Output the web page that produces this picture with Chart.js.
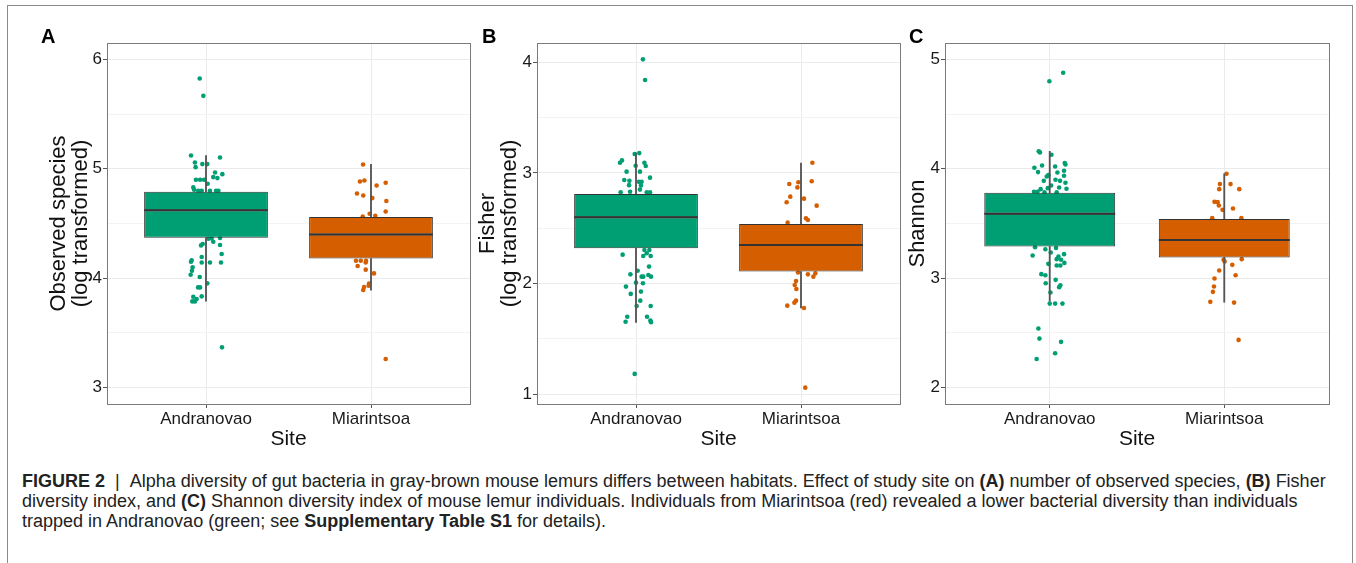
<!DOCTYPE html>
<html>
<head>
<meta charset="utf-8">
<script src="https://cdn.jsdelivr.net/npm/chart.js@4.4.1/dist/chart.umd.min.js"></script>
<style>
  html, body { margin: 0; padding: 0; background: #fff; }
  body { width: 1356px; height: 563px; position: relative; overflow: hidden; font-family: "Liberation Sans", Arial, sans-serif; }
  .frame { position: absolute; left: 7px; top: 5px; width: 1344px; height: 620px; border: 1px solid #8a8a8a; }
  canvas { position: absolute; top: 0; }
  .tag { position: absolute; top: 26px; font-weight: bold; font-size: 20px; line-height: 20px; color: #000; }
  .caption { position: absolute; left: 22px; top: 471px; font-size: 18px; line-height: 20px; color: #222; white-space: nowrap; }
  .caption .sep { margin: 0 10px; }
</style>
</head>
<body>
<div class="frame"></div>
<canvas id="panelA" width="464" height="460" style="left:10px"></canvas>
<canvas id="panelB" width="430" height="460" style="left:474px"></canvas>
<canvas id="panelC" width="427" height="460" style="left:906px"></canvas>
<div class="tag" style="left:41px">A</div>
<div class="tag" style="left:482px">B</div>
<div class="tag" style="left:909px">C</div>
<div class="caption"><b>FIGURE 2</b><span class="sep">|</span>Alpha diversity of gut bacteria in gray-brown mouse lemurs differs between habitats. Effect of study site on <b>(A)</b> number of observed species, <b>(B)</b> Fisher<br>diversity index, and <b>(C)</b> Shannon diversity index of mouse lemur individuals. Individuals from Miarintsoa (red) revealed a lower bacterial diversity than individuals<br>trapped in Andranovao (green; see <b>Supplementary Table S1</b> for details).</div>

<script>
// sites on the x axis
const sites = ['Andranovao', 'Miarintsoa'];
const siteColors = ['#009E73', '#D55E00'];

// A - observed species (log transformed)
const obsTicks = [3, 4, 5, 6];
const obsQ1 = [4.37, 4.18];
const obsMedian = [4.62, 4.40];
const obsQ3 = [4.79, 4.56];
const obsLow = [3.79, 3.89];
const obsHigh = [5.12, 5.04];
const obsAndrX = [0.962, 0.984, 0.909, 1.085, 0.933, 0.937, 0.978, 1.008, 1.055, 1.099, 1.069, 1.044, 0.939, 0.964, 0.988, 1.010, 0.923, 0.928, 0.953, 0.974, 1.024, 1.061, 1.075,
  1.014, 1.034, 1.085, 1.044, 0.980, 0.970, 1.085, 1.095, 0.913, 0.909, 0.974, 0.974, 1.024, 1.091, 0.919, 0.915, 0.907, 0.962, 1.008, 0.952, 0.964, 0.923, 0.974, 0.917, 0.933, 0.943, 1.097];
const obsAndrY = [5.825, 5.667, 5.121, 5.103, 5.058, 5.015, 5.043, 5.043, 4.966, 4.951, 4.915, 4.924, 4.900, 4.900, 4.900, 4.863, 4.830, 4.808, 4.800, 4.800, 4.800, 4.800, 4.800,
  4.360, 4.364, 4.367, 4.333, 4.312, 4.300, 4.303, 4.221, 4.163, 4.151, 4.194, 4.144, 4.144, 4.144, 4.099, 4.068, 4.032, 4.011, 3.953, 3.916, 3.916, 3.831, 3.834, 3.788, 3.788, 3.810, 3.368];
const obsMiarX = [1.952, 1.933, 1.960, 2.034, 2.089, 1.915, 1.953, 2.008, 2.093, 1.992, 2.026, 2.089, 1.950,
  1.909, 1.938, 1.970, 1.919, 1.968, 1.968, 2.018, 1.988, 1.986, 1.958, 1.953, 2.089];
const obsMiarY = [5.040, 4.884, 4.893, 4.847, 4.872, 4.774, 4.756, 4.732, 4.705, 4.589, 4.571, 4.610, 4.564,
  4.160, 4.160, 4.160, 4.111, 4.144, 4.078, 4.044, 3.950, 3.932, 3.920, 3.892, 3.262];

// B - Fisher (log transformed)
const fisherTicks = [1, 2, 3, 4];
const fisherQ1 = [2.32, 2.11];
const fisherMedian = [2.60, 2.35];
const fisherQ3 = [2.81, 2.54];
const fisherLow = [1.65, 1.78];
const fisherHigh = [3.18, 3.09];
const fisherAndrX = [1.042, 1.055, 0.915, 0.903, 0.992, 1.020, 1.051, 1.059, 0.943, 0.998, 1.024, 1.085, 0.929, 0.960, 1.018, 1.034, 1.030, 0.958, 0.964, 0.907, 1.024, 1.065, 1.085,
  0.919, 1.051, 1.081, 1.065, 1.044, 1.089, 1.079, 1.010, 0.966, 1.034, 1.044, 1.075, 1.091, 1.000, 1.042, 0.939, 1.030, 0.968, 1.026, 1.089, 1.004, 0.947, 0.937, 1.067, 1.087, 1.091, 0.992];
const fisherAndrY = [4.027, 3.840, 3.114, 3.093, 3.172, 3.180, 3.093, 3.063, 3.012, 3.066, 3.012, 2.958, 2.937, 2.930, 2.920, 2.920, 2.886, 2.890, 2.830, 2.825, 2.850, 2.825, 2.825,
  2.262, 2.304, 2.304, 2.274, 2.250, 2.250, 2.154, 2.117, 2.084, 2.063, 2.063, 2.078, 2.063, 2.009, 2.003, 1.973, 1.928, 1.907, 1.846, 1.798, 1.798, 1.700, 1.655, 1.700, 1.666, 1.652, 1.184];
const fisherMiarX = [2.069, 1.929, 1.984, 1.978, 2.065, 1.935, 1.913, 2.018, 2.095, 2.030, 2.042, 1.919,
  1.982, 2.042, 2.087, 2.075, 1.970, 1.962, 1.972, 1.970, 1.960, 1.917, 2.018, 2.026];
const fisherMiarY = [3.093, 2.900, 2.916, 2.870, 2.925, 2.786, 2.735, 2.768, 2.705, 2.590, 2.575, 2.551,
  2.100, 2.084, 2.093, 2.063, 2.024, 1.988, 1.952, 1.846, 1.828, 1.801, 1.780, 1.060];

// C - Shannon
const shannonTicks = [2, 3, 4, 5];
const shannonQ1 = [3.29, 3.19];
const shannonMedian = [3.59, 3.35];
const shannonQ3 = [3.78, 3.54];
const shannonLow = [2.79, 2.78];
const shannonHigh = [4.16, 3.955];
const shannonAndrX = [1.077, 0.998, 0.937, 0.944, 1.010, 1.086, 1.090, 0.956, 0.912, 0.933, 1.031, 1.082, 1.044, 1.082, 0.992, 0.983, 0.966, 1.033, 1.059, 1.090, 1.008, 1.054, 0.948, 1.096, 0.989, 0.910, 0.930, 0.970, 1.040,
  0.916, 0.975, 1.036, 1.006, 0.902, 1.082, 1.050, 1.040, 1.065, 0.992, 1.040, 1.084, 1.061, 0.952, 0.975, 1.034, 0.977, 1.061, 1.054, 1.004, 1.000, 1.031, 1.073, 0.935, 0.941, 1.065, 1.031, 0.925];
const shannonAndrY = [4.878, 4.800, 4.160, 4.150, 4.128, 4.052, 4.040, 4.030, 4.009, 3.970, 4.021, 3.982, 3.966, 3.936, 3.942, 3.930, 3.890, 3.900, 3.890, 3.872, 3.848, 3.829, 3.814, 3.817, 3.823, 3.790, 3.790, 3.785, 3.785,
  3.284, 3.265, 3.277, 3.235, 3.207, 3.220, 3.198, 3.174, 3.168, 3.131, 3.116, 3.140, 3.116, 3.037, 3.027, 2.985, 2.954, 2.936, 2.918, 2.869, 2.768, 2.768, 2.768, 2.540, 2.448, 2.418, 2.314, 2.262];
const shannonMiarX = [2.013, 1.975, 2.036, 1.971, 2.086, 1.944, 1.962, 1.969, 1.990, 2.050, 1.931, 2.098,
  1.996, 2.002, 2.100, 2.046, 1.971, 2.065, 1.944, 1.941, 1.935, 1.920, 2.056, 2.082];
const shannonMiarY = [3.955, 3.860, 3.860, 3.814, 3.814, 3.698, 3.695, 3.665, 3.625, 3.637, 3.549, 3.549,
  3.168, 3.152, 3.174, 3.122, 3.070, 3.027, 2.997, 2.924, 2.875, 2.784, 2.777, 2.436];

const FONT = '"Liberation Sans", Arial, sans-serif';
const BOX_WIDTH = 0.75;   // box width in x units, as in ggplot

// grey rectangle round the plotting area, like theme_bw
const panelBorder = {
  id: 'panelBorder',
  afterDraw(chart) {
    const { ctx, chartArea: a } = chart;
    ctx.save();
    ctx.strokeStyle = '#7a7a7a';
    ctx.lineWidth = 1;
    ctx.strokeRect(Math.round(a.left) + 0.5, Math.round(a.top) + 0.5, Math.round(a.width), Math.round(a.height));
    ctx.restore();
  }
};

function withMinor(ticks) {
  const out = [];
  ticks.forEach((t, i) => {
    out.push(t);
    if (i < ticks.length - 1) out.push((t + ticks[i + 1]) / 2);
  });
  return out;
}

function pts(xs, ys) {
  return xs.map((x, i) => ({ x: x, y: ys[i] }));
}

function boxPart(lo, hi) {
  return sites.map((s, i) => ({ x: i + 1, y: [lo[i], hi[i]] }));
}

// half the box width in pixels, taken from the x scale
function halfBox(c) {
  const x = c.chart.scales.x;
  return Math.abs(x.getPixelForValue(1 + BOX_WIDTH / 2) - x.getPixelForValue(1));
}

function makePanel(id, p) {
  const boxStyle = {
    type: 'bar',
    backgroundColor: siteColors,
    borderColor: '#333333',
    borderWidth: 1,
    borderSkipped: false,
    grouped: false,
    categoryPercentage: 1,
    barPercentage: BOX_WIDTH,
    order: 1
  };
  const whiskerStyle = {
    type: 'bar', backgroundColor: '#555555', borderWidth: 0,
    grouped: false, barThickness: 1.2, order: 2
  };
  new Chart(document.getElementById(id), {
    type: 'scatter',
    data: {
      datasets: [
        {
          data: sites.map((s, i) => ({ x: i + 1, y: p.median[i] })),
          pointStyle: 'line', pointRadius: halfBox, borderColor: '#333333', borderWidth: 2, order: 0
        },
        Object.assign({ data: boxPart(p.q1, p.median) }, boxStyle),
        Object.assign({ data: boxPart(p.median, p.q3) }, boxStyle),
        Object.assign({ data: boxPart(p.low, p.q1) }, whiskerStyle),
        Object.assign({ data: boxPart(p.q3, p.high) }, whiskerStyle),
        { data: pts(p.andrX, p.andrY), backgroundColor: siteColors[0], pointRadius: 2.3, borderWidth: 0, order: 3 },
        { data: pts(p.miarX, p.miarY), backgroundColor: siteColors[1], pointRadius: 2.3, borderWidth: 0, order: 3 }
      ]
    },
    options: {
      responsive: false,
      animation: false,
      events: [],
      layout: { padding: { top: 43, right: 4, left: 0, bottom: 0 } },
      plugins: { legend: { display: false }, tooltip: { enabled: false } },
      scales: {
        x: {
          type: 'linear', min: 0.4, max: 2.6, offset: false,
          afterBuildTicks: s => { s.ticks = sites.map((c, i) => ({ value: i + 1 })); },
          afterFit: s => { s.height = 56; },
          ticks: { callback: v => sites[v - 1] || '', autoSkip: false, maxRotation: 0, padding: 1, color: '#1a1a1a', font: { family: FONT, size: 17 } },
          grid: { color: '#ebebeb', lineWidth: 1, offset: false, tickLength: 4, tickColor: '#555' },
          border: { display: false },
          title: { display: true, text: 'Site', color: '#111', font: { family: FONT, size: 21, lineHeight: 1.05 }, padding: { top: 0, bottom: 10 } }
        },
        y: {
          type: 'linear', min: p.min, max: p.max,
          afterBuildTicks: s => { s.ticks = withMinor(p.ticks).map(v => ({ value: v })); },
          afterFit: s => { s.width = p.axisWidth; },
          ticks: { callback: v => Number.isInteger(v) ? String(v) : '', autoSkip: false, padding: 1, color: '#1a1a1a', font: { family: FONT, size: 17 } },
          grid: {
            color: c => Number.isInteger(c.tick.value) ? '#ebebeb' : '#f3f3f3',
            lineWidth: 1, tickLength: 4,
            tickColor: c => Number.isInteger(c.tick.value) ? '#555' : 'rgba(0,0,0,0)'
          },
          border: { display: false },
          title: { display: true, text: p.title, color: '#111', font: { family: FONT, size: 22, lineHeight: 1.0 }, padding: { top: p.titlePad, bottom: 0 } }
        }
      }
    },
    plugins: [panelBorder]
  });
}

makePanel('panelA', {
  ticks: obsTicks, min: 2.85, max: 6.15, q1: obsQ1, median: obsMedian, q3: obsQ3, low: obsLow, high: obsHigh,
  andrX: obsAndrX, andrY: obsAndrY, miarX: obsMiarX, miarY: obsMiarY,
  title: ['Observed species', '(log transformed)'], titlePad: 38, axisWidth: 97
});
makePanel('panelB', {
  ticks: fisherTicks, min: 0.912, max: 4.175, q1: fisherQ1, median: fisherMedian, q3: fisherQ3, low: fisherLow, high: fisherHigh,
  andrX: fisherAndrX, andrY: fisherAndrY, miarX: fisherMiarX, miarY: fisherMiarY,
  title: ['Fisher', '(log transformed)'], titlePad: 3, axisWidth: 63
});
makePanel('panelC', {
  ticks: shannonTicks, min: 1.85, max: 5.15, q1: shannonQ1, median: shannonMedian, q3: shannonQ3, low: shannonLow, high: shannonHigh,
  andrX: shannonAndrX, andrY: shannonAndrY, miarX: shannonMiarX, miarY: shannonMiarY,
  title: 'Shannon', titlePad: 1, axisWidth: 39
});
</script>
</body>
</html>
